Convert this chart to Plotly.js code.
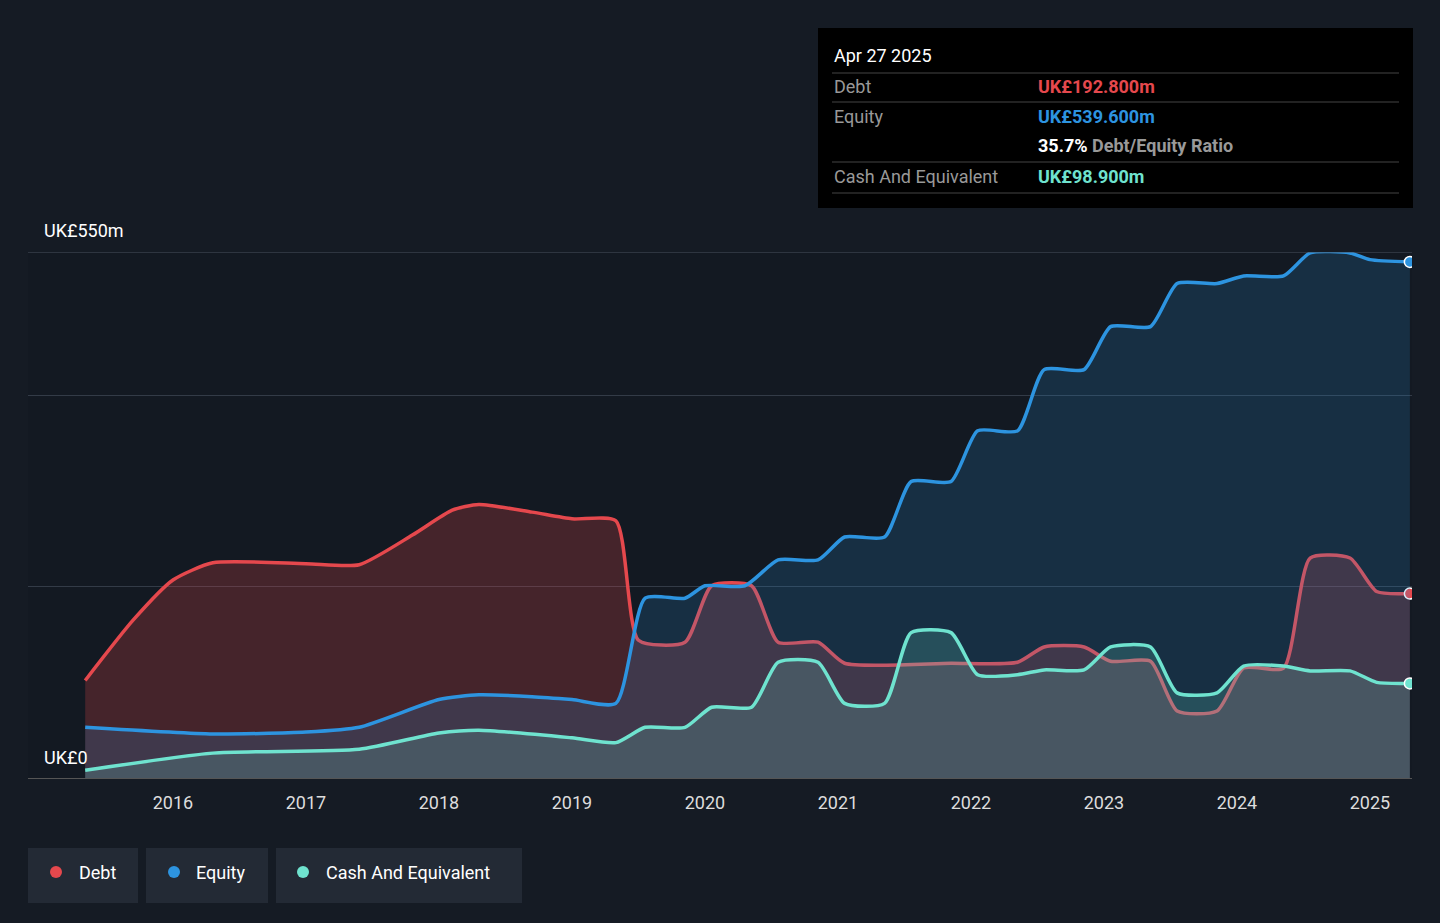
<!DOCTYPE html>
<html>
<head>
<script src="https://cdn.plot.ly/plotly-3.0.1.min.js"></script>
<style>body{margin:0;background:#151b24}#plot{width:1440px;height:923px}</style>
</head>
<body>
<div id="plot"></div>
<script>
const equityX = [2015.34,2016.3,2017.0,2017.4,2018.0,2018.3,2018.7,2019.0,2019.33,2019.55,2019.85,2020.0,2020.3,2020.55,2020.85,2021.05,2021.35,2021.55,2021.85,2022.05,2022.35,2022.55,2022.85,2023.05,2023.35,2023.55,2023.85,2024.05,2024.35,2024.55,2024.85,2025.0,2025.3];
const equityY = [53,46,48,53,82,87,85,82,78,188,188,201,201,228,228,252,252,310,310,363,363,427,427,472,472,517,517,525,525,549,549,542,539.6];
const debtX = [2015.34,2015.7,2016.0,2016.3,2017.0,2017.4,2017.8,2018.1,2018.3,2018.7,2019.0,2019.33,2019.5,2019.85,2020.05,2020.35,2020.55,2020.85,2021.05,2021.85,2022.35,2022.55,2022.85,2023.05,2023.35,2023.55,2023.85,2024.05,2024.35,2024.55,2024.85,2025.05,2025.3];
const debtY = [102,165,207,225,224,223,254,280,286,278,271,269,144,142,201,201,142,142,120,120,121,137,137,122,122,70,70,115,115,230,230,195,192.8];
const cashX = [2015.34,2016.3,2017.4,2018.0,2018.3,2019.0,2019.33,2019.55,2019.85,2020.05,2020.35,2020.55,2020.85,2021.05,2021.35,2021.55,2021.85,2022.05,2022.35,2022.55,2022.85,2023.05,2023.35,2023.55,2023.85,2024.05,2024.35,2024.55,2024.85,2025.05,2025.3];
const cashY = [8,26,30,47,50,42,37,53,53,74,74,121,121,78,78,152,152,108,108,113,113,137,137,89,89,117,117,112,112,100,98.9];
const years = [2016,2017,2018,2019,2020,2021,2022,2023,2024,2025];

const px = x => (x - 28) / 1384;
const py = y => (778 - y) / 526;

function series(x, y, color, fill) {
  return [{
    x, y, type: "scatter", mode: "lines", line: {color, width: 3.5, shape: "spline", smoothing: 0.6},
    fill: "tozeroy", fillcolor: fill, hoverinfo: "skip", showlegend: false
  }, {
    x: [x[x.length - 1]], y: [y[y.length - 1]], type: "scatter", mode: "markers",
    marker: {color, size: 11, line: {color: "#fff", width: 1.5}}, hoverinfo: "skip", showlegend: false
  }];
}

const traces = [
  ...series(debtX, debtY, "#e5484d", "rgba(229,72,77,0.24)"),
  ...series(equityX, equityY, "#2d94e0", "rgba(45,148,224,0.18)"),
  ...series(cashX, cashY, "#6fe3cf", "rgba(111,227,207,0.18)")
];

const font = {family: "Roboto", color: "#fff", size: 18};
const ann = (x, y, text, opts = {}) => Object.assign({xref: "paper", yref: "paper", x: px(x), y: py(y), text, showarrow: false, xanchor: "left", yanchor: "middle", font: Object.assign({}, font, opts.font || {})}, opts.extra || {});

const shapes = [
  {type: "line", xref: "paper", yref: "y", x0: 0, x1: 1, y0: 550, y1: 550, line: {color: "#4a525e", width: 1}},
  {type: "rect", xref: "paper", yref: "paper", x0: px(818), x1: px(1413), y0: py(28), y1: py(208), fillcolor: "#000", line: {width: 0}},
  ...[73, 102, 162, 193].map(y => ({type: "line", xref: "paper", yref: "paper", x0: px(832), x1: px(1399), y0: py(y), y1: py(y), line: {color: "#444", width: 1}})),
  ...[[28, 138], [146, 268], [276, 522]].map(([a, b]) => ({type: "rect", xref: "paper", yref: "paper", x0: px(a), x1: px(b), y0: py(848), y1: py(903), fillcolor: "#232a35", line: {width: 0}})),
  ...[[56, "#e5484d"], [174, "#2d94e0"], [303, "#6fe3cf"]].map(([c, col]) => ({type: "circle", xref: "paper", yref: "paper", x0: px(c - 6), x1: px(c + 6), y0: py(866), y1: py(878), fillcolor: col, line: {width: 0}}))
];

const annotations = [
  ann(42, 230, "UK£550m", {font: {size: 18}}),
  ann(42, 757, "UK£0", {font: {size: 18}}),
  ann(832, 55, "Apr 27 2025"),
  ann(832, 86, "Debt", {font: {color: "#999"}}),
  ann(1036, 86, "<b>UK£192.800m</b>", {font: {color: "#e5484d"}}),
  ann(832, 116, "Equity", {font: {color: "#999"}}),
  ann(1036, 116, "<b>UK£539.600m</b>", {font: {color: "#2d94e0"}}),
  ann(1036, 146, "<b>35.7%</b> <span style='color:#999'><b>Debt/Equity Ratio</b></span>"),
  ann(832, 176, "Cash And Equivalent", {font: {color: "#999"}}),
  ann(1036, 176, "<b>UK£98.900m</b>", {font: {color: "#6fe3cf"}}),
  ann(77, 872, "Debt"),
  ann(194, 872, "Equity"),
  ann(324, 872, "Cash And Equivalent")
];

Plotly.newPlot(document.querySelector("#plot"), traces, {
  width: 1440, height: 923,
  paper_bgcolor: "#151b24", plot_bgcolor: "#131922",
  margin: {l: 28, r: 28, t: 252, b: 145},
  xaxis: {range: [2014.91, 2025.316], tickvals: years, ticktext: years.map(String), showgrid: false, zeroline: false,
    showline: true, linecolor: "#555", ticks: "outside", ticklen: 8, tickcolor: "rgba(0,0,0,0)",
    tickfont: {family: "Roboto", size: 18, color: "#ddd"}},
  yaxis: {range: [0, 550], tickvals: [0, 200, 400], showticklabels: false, gridcolor: "#333b47", zeroline: false},
  shapes, annotations
}, {displayModeBar: false, staticPlot: true});
</script>
</body>
</html>
